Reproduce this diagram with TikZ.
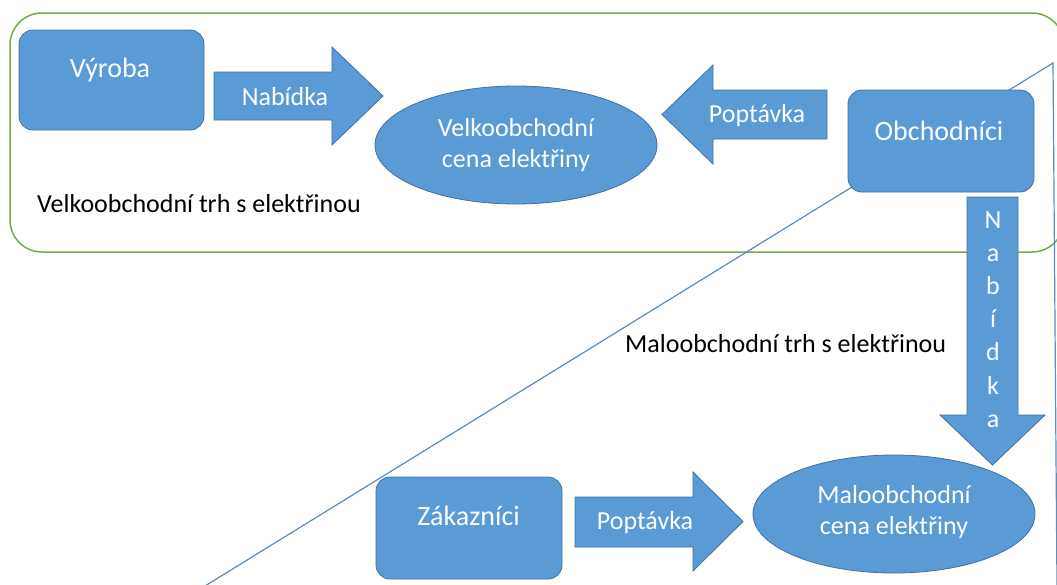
\documentclass[tikz,border=0pt]{standalone}
\usepackage{fontspec}
\setmainfont{Carlito}
\usetikzlibrary{shapes.geometric}
\definecolor{fillblue}{HTML}{5B9BD5}
\definecolor{edgeblue}{HTML}{41719C}
\definecolor{lineblue}{HTML}{5A8CC0}
\definecolor{mkgreen}{HTML}{70AD47}
\begin{document}
\begin{tikzpicture}[x=1pt,y=-1pt,
  boxshape/.style={rectangle, fill=fillblue, draw=edgeblue, line width=0.8pt, rounded corners=14pt, inner sep=0pt},
  ellshape/.style={ellipse, fill=fillblue, draw=edgeblue, line width=0.8pt, inner sep=0pt, minimum width=282pt, minimum height=118pt},
  blockarrow/.style={fill=fillblue, draw=edgeblue, line width=0.8pt, line join=miter},
  wlabel/.style={text=white, font=\fontsize{26}{32}\selectfont, inner sep=0pt, anchor=base},
  boxlabel/.style={text=white, font=\fontsize{28}{32}\selectfont, inner sep=0pt, anchor=base},
  blabel/.style={text=black, font=\fontsize{26}{32}\selectfont, inner sep=0pt, anchor=base west},
  market/.style={draw=mkgreen, line width=1.5pt, rounded corners=32pt},
  triline/.style={draw=lineblue, line width=1.2pt}
]
\useasboundingbox (0,0) rectangle (1057,584);
\fill[white] (0,0) rectangle (1057,584);

% wholesale market frame
\draw[market] (10,13) rectangle (1064,252);

% triangle outline
\coordinate (tl) at (205,586);
\coordinate (tt) at (1053,63);
\coordinate (tr) at (1057,586);
\draw[triline] (tl) -- (tt) -- (tr);

% boxes
\node[boxshape, minimum width=185pt, minimum height=100pt] (vyroba) at (111.5,80) {};
\node[boxshape, minimum width=186pt, minimum height=102pt] (obch) at (941,141) {};
\node[boxshape, minimum width=186pt, minimum height=102pt] (zak) at (469,528) {};

% ellipses
\node[ellshape] (velko) at (516,145) {};
\node[ellshape] (malo) at (894,514) {};

% block arrows
\draw[blockarrow] (214,72) -- (332,72) -- (332,47) -- (383,96) -- (332,145) -- (332,120) -- (214,120) -- cycle;
\draw[blockarrow] (827,90) -- (713,90) -- (713,65) -- (662,114.5) -- (713,164) -- (713,139) -- (827,139) -- cycle;
\draw[blockarrow] (967,197) -- (967,415) -- (940,415) -- (992.5,465) -- (1045,415) -- (1018,415) -- (1018,197) -- cycle;
\draw[blockarrow] (575,497) -- (693,497) -- (693,472) -- (743,521.5) -- (693,571) -- (693,547) -- (575,547) -- cycle;

% labels
\node[boxlabel] (tv) at (110,77) {Výroba};
\node[wlabel] (tn1) at (285,105) {Nabídka};
\node[wlabel] (tvc1) at (516,136) {Velkoobchodní};
\node[wlabel] (tvc2) at (516,167) {cena elektřiny};
\node[wlabel] (tp1) at (757,122) {Poptávka};
\node[boxlabel] (to) at (939,140) {Obchodníci};
\foreach \ch [count=\i from 0] in {N,a,b,í,d,k,a}
  \node[wlabel] (tn2-\i) at (993,228+33.2*\i) {\ch};
\node[boxlabel] (tz) at (468.5,525) {Zákazníci};
\node[wlabel] (tp2) at (645,529) {Poptávka};
\node[wlabel] (tmc1) at (894,503) {Maloobchodní};
\node[wlabel] (tmc2) at (894,534) {cena elektřiny};
\node[blabel] (tvt) at (37,212) {Velkoobchodní trh s elektřinou};
\node[blabel] (tmt) at (625,352) {Maloobchodní trh s elektřinou};
\end{tikzpicture}
\end{document}
